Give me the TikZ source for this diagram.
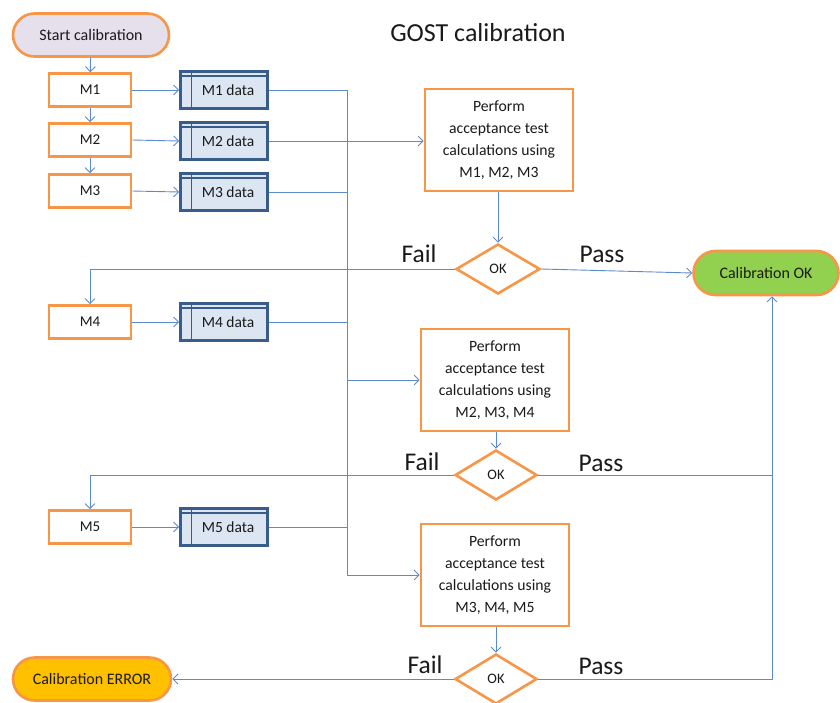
\documentclass[tikz,border=0pt]{standalone}
\usepackage{fontspec}
\setmainfont{Carlito}
\usetikzlibrary{arrows.meta,shapes.geometric,shapes.misc,calc}
\definecolor{frameorange}{HTML}{F79646}
\definecolor{datablue}{HTML}{385D8A}
\definecolor{datafill}{HTML}{DCE6F2}
\definecolor{linkblue}{HTML}{5B8BCC}
\definecolor{startfill}{HTML}{E5E0EC}
\definecolor{okgreen}{HTML}{92D050}
\definecolor{errgold}{HTML}{FFC000}
\definecolor{ink}{HTML}{1A1A1A}
\tikzset{
  every node/.style={text=ink},
  terminal/.style={rounded rectangle, draw=frameorange, line width=2.6pt,
    minimum height=43pt, inner sep=0pt, font=\fontsize{16}{18}\selectfont},
  measbox/.style={rectangle, draw=frameorange, line width=2.6pt, fill=white,
    minimum width=82pt, minimum height=33pt, inner sep=0pt,
    font=\fontsize{15}{17}\selectfont},
  databox/.style={rectangle, draw=datablue, line width=2.6pt, fill=datafill,
    minimum width=87pt, minimum height=37pt, inner sep=0pt,
    font=\fontsize{15.5}{17}\selectfont,
    path picture={
      \draw[datablue, line width=1.6pt]
        ([xshift=11pt]path picture bounding box.north west) --
        ([xshift=11pt]path picture bounding box.south west);
      \draw[datablue, line width=1.2pt]
        ([yshift=-4.5pt]path picture bounding box.north west) --
        ([yshift=-4.5pt]path picture bounding box.north east);
    }},
  calcbox/.style={rectangle, draw=frameorange, line width=2.6pt, fill=white,
    minimum width=148pt, minimum height=102pt, inner sep=0pt, align=center,
    font=\fontsize{15.7}{22}\selectfont},
  check/.style={diamond, draw=frameorange, line width=2.6pt, fill=white,
    minimum width=82pt, minimum height=50pt, inner sep=0pt,
    font=\fontsize{14.5}{16}\selectfont},
  verdict/.style={font=\fontsize{25.5}{28}\selectfont, inner sep=0pt},
  link/.style={draw=linkblue, line width=0.9pt},
  arr/.style={link, -{Straight Barb[length=5pt,width=10pt,line width=0.9pt]}},
}
\begin{document}
\begin{tikzpicture}[x=1pt,y=-1pt]
\useasboundingbox (0,0) rectangle (840,702);

% title
\node[font=\fontsize{26}{30}\selectfont] (title) at (478,33) {GOST calibration};

% start and end terminals
\node[terminal, fill=startfill, minimum width=156pt] (start) at (91,35) {Start calibration};
\node[terminal, fill=okgreen, minimum width=145pt, minimum height=44pt] (cok) at (766,273) {Calibration OK};
\node[terminal, fill=errgold, minimum width=158pt] (cerr) at (92,679) {Calibration ERROR};

% measurements
\node[measbox] (m1) at (90,90) {M1};
\node[measbox] (m2) at (90,140) {M2};
\node[measbox] (m3) at (90,191) {M3};
\node[measbox] (m4) at (90,322) {M4};
\node[measbox] (m5) at (90,527) {M5};

% stored data
\node[databox] (d1) at (224,90) {\hspace*{8pt}M1 data};
\node[databox] (d2) at (224,141) {\hspace*{8pt}M2 data};
\node[databox] (d3) at (224,192) {\hspace*{8pt}M3 data};
\node[databox] (d4) at (224,322) {\hspace*{8pt}M4 data};
\node[databox] (d5) at (224,527) {\hspace*{8pt}M5 data};

% acceptance calculations
\node[calcbox] (p1) at (499,140) {Perform\\acceptance test\\calculations using\\M1, M2, M3};
\node[calcbox] (p2) at (495,380) {Perform\\acceptance test\\calculations using\\M2, M3, M4};
\node[calcbox] (p3) at (495,575) {Perform\\acceptance test\\calculations using\\M3, M4, M5};

% decisions
\node[check, minimum width=84pt] (k1) at (498,269) {OK};
\node[check] (k2) at (496,475) {OK};
\node[check] (k3) at (496,679) {OK};

% verdict labels
\node[verdict] (f1) at (419,254) {Fail};
\node[verdict] (s1) at (602,254) {Pass};
\node[verdict] (f2) at (422,462) {Fail};
\node[verdict] (s2) at (601,463) {Pass};
\node[verdict] (f3) at (425,665) {Fail};
\node[verdict] (s3) at (601,666) {Pass};

% collecting bus and pass return line
\coordinate (bus) at (347,0);
\coordinate (pbus) at (772,0);

% measurement sequence
\draw[arr] (start) -- (m1);
\draw[arr] (m1) -- (m2);
\draw[arr] (m2) -- (m3);
\foreach \i in {1,...,5} { \draw[arr] (m\i.east) -- (d\i.east -| d\i.west); }

% data bus to the calculations
\draw[link] (d1.east) -- (d1.east -| bus) -- (bus |- p3.west);
\draw[link] (d3.east) -- (d3.east -| bus);
\draw[link] (d4.east) -- (d4.east -| bus);
\draw[link] (d5.east) -- (d5.east -| bus);
\draw[arr] (d2.east) -- (d2.east -| p1.west);
\draw[arr] (bus |- p2.west) -- (p2.west);
\draw[arr] (bus |- p3.west) -- (p3.west);

% calculations to decisions
\draw[arr] (p1.south -| k1.north) -- (k1.north);
\draw[arr] (p2.south -| k2.north) -- (k2.north);
\draw[arr] (p3.south -| k3.north) -- (k3.north);

% fail branches
\draw[arr] (k1.west) -| (m4.north);
\draw[arr] (k2.west) -| (m5.north);
\draw[arr] (k3.west) -- (cerr.east);

% pass branches
\draw[arr] (k1.east) -- (cok.west);
\draw[link] (k2.east) -- (k2.east -| pbus);
\draw[arr] (k3.east) -| (pbus |- cok.south);
\end{tikzpicture}
\end{document}
